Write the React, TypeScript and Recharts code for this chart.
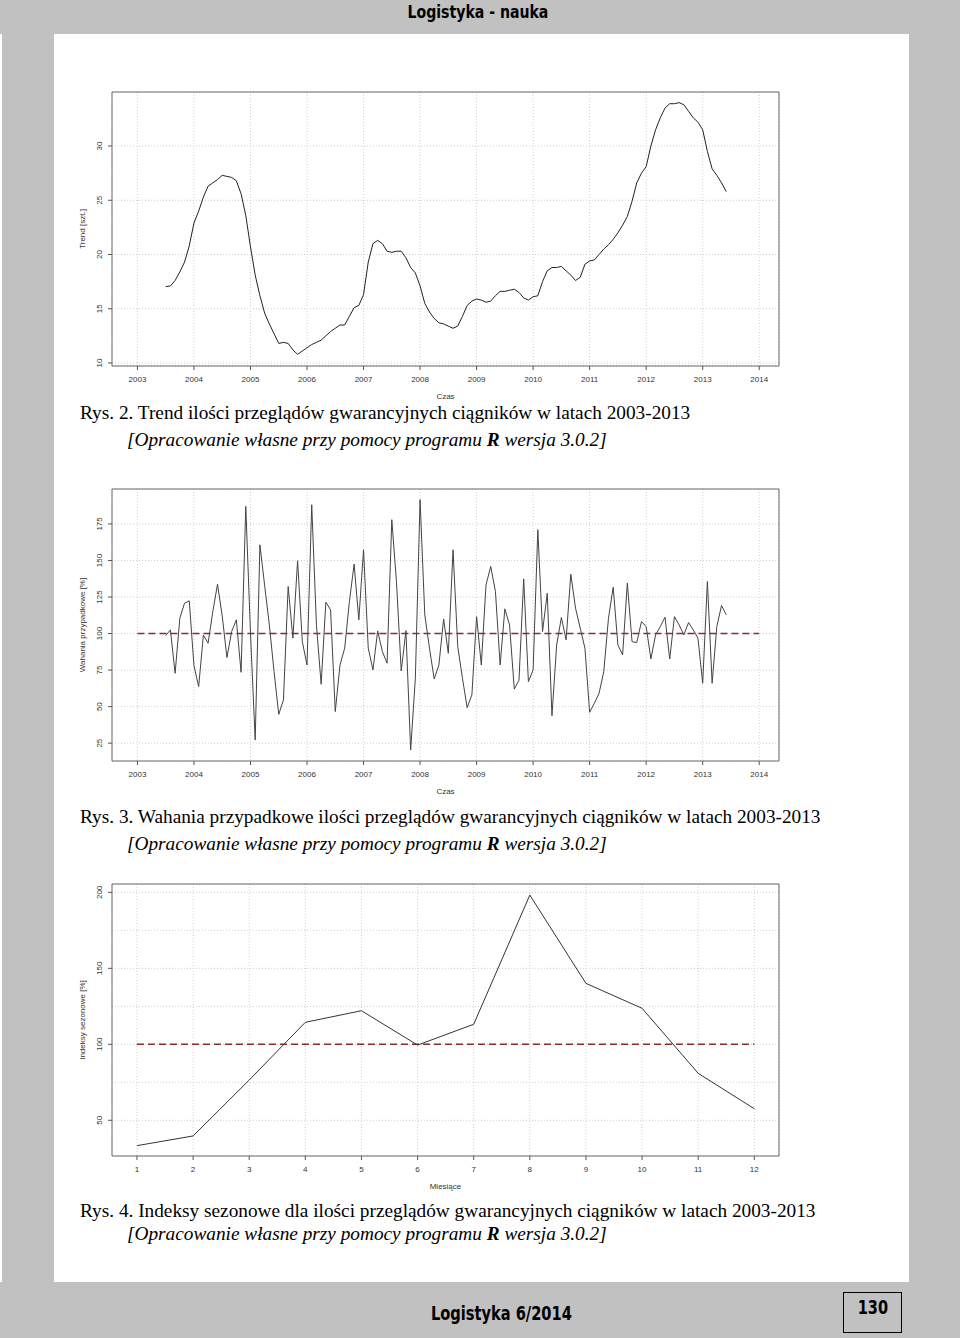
import {
  LineChart,
  Line,
  XAxis,
  YAxis,
  CartesianGrid,
  ReferenceLine,
  ReferenceArea,
} from "recharts";

// monthly series start: July 2003 (12-month moving average drops 6 months each side)
const START_YEAR = 2003;
const START_MONTH = 7;

const trendValues = [
  17.04, 17.1, 17.6, 18.4, 19.3, 20.8, 22.9, 24.0, 25.3, 26.3, 26.6, 26.9,
  27.3, 27.2, 27.1, 26.8, 25.6, 23.6, 20.7, 18.1, 16.2, 14.6, 13.6, 12.7,
  11.8, 11.9, 11.8, 11.2, 10.8, 11.1, 11.4, 11.7, 11.9, 12.1, 12.5, 12.9,
  13.2, 13.5, 13.5, 14.3, 15.1, 15.3, 16.3, 19.3, 21.0, 21.3, 21.0, 20.3,
  20.2, 20.3, 20.3, 19.7, 18.8, 18.3, 17.1, 15.5, 14.7, 14.1, 13.7, 13.6,
  13.4, 13.2, 13.4, 14.3, 15.3, 15.7, 15.9, 15.8, 15.6, 15.7, 16.2, 16.6,
  16.6, 16.7, 16.8, 16.5, 16.0, 15.8, 16.1, 16.2, 17.5, 18.5, 18.8, 18.8,
  18.9, 18.5, 18.1, 17.6, 17.9, 19.1, 19.4, 19.5, 20.0, 20.5, 20.9, 21.4,
  22.0, 22.7, 23.5, 24.9, 26.6, 27.5, 28.1, 30.0, 31.5, 32.6, 33.5, 33.9,
  33.9, 34.0, 33.8, 33.2, 32.6, 32.2, 31.5, 29.5, 27.9, 27.3, 26.6, 25.8,
];

const randomValues = [
  98.6, 102.5, 72.8, 110.5, 120.8, 122.4, 78, 63.7, 99, 93.4, 115, 133.8,
  112, 83.6, 101.4, 109.4, 73.5, 187, 100, 27.2, 160.7, 133, 106, 74,
  44.7, 54.6, 132.2, 96.8, 149.8, 94.5, 78.5, 188.1, 106, 65.3, 121.5, 116.2,
  46.6, 78.5, 90, 122, 147.5, 109.4, 157.3, 90, 75.1, 101.8, 87.7, 79.7,
  177.9, 135, 74.4, 102, 20.3, 69.4, 191.6, 112.8, 90, 68.9, 78.5, 110,
  86.5, 157.3, 91.1, 69.4, 49.3, 58, 111.6, 78.5, 133.3, 145.9, 128.8, 78.5,
  116.9, 105.9, 62, 68, 137.4, 67.1, 75.1, 171, 101.4, 127.6, 43.8, 92.2,
  111, 95.7, 140.6, 117.4, 103.7, 90, 46.1, 52.3, 59.1, 74, 110.5, 131.7,
  92.2, 85.4, 134.5, 94.5, 93.8, 108.2, 104.8, 82.6, 99.1, 104.8, 111.2, 82.6,
  111.6, 105.9, 99.1, 107.5, 102.5, 96.8, 66, 135.6, 66, 104.8, 119.2, 112.8,
];

const months = [1, 2, 3, 4, 5, 6, 7, 8, 9, 10, 11, 12];
const seasonalValues = [33.3, 39.7, 76.5, 114.5, 122.1, 99.5, 113.2, 198.2, 140.1, 123.7, 80.9, 57.6];

const yearTicks = [2003, 2004, 2005, 2006, 2007, 2008, 2009, 2010, 2011, 2012, 2013, 2014];
const trendTicks = [10, 15, 20, 25, 30];
const randomTicks = [25, 50, 75, 100, 125, 150, 175];
const seasonalTicks = [50, 75, 100, 125, 150, 175, 200];
const seasonalLabels = [50, 100, 150, 200];

const toTime = (i: number) => START_YEAR + (START_MONTH - 1 + i) / 12;
const trendData = trendValues.map((v, i) => ({ x: toTime(i), v }));
const randomData = randomValues.map((v, i) => ({ x: toTime(i), v }));
const seasonalData = months.map((m, i) => ({ x: m, v: seasonalValues[i] }));

const PAGE_W = 960;
const PLOT_LEFT = 112;
const PLOT_RIGHT = 779;
const Y_AXIS_W = 30;
const X_AXIS_H = 30;
const AXIS_FONT = "'Liberation Sans', Arial, sans-serif";
const AXIS_FS = 8;

interface PanelProps {
  top: number;
  plotTop: number;
  plotBottom: number;
  data: { x: number; v: number }[];
  xDomain: [number, number];
  yDomain: [number, number];
  xTicks: number[];
  yTicks: number[];
  yLabels: number[];
  yTitle: string;
  xTitle: string;
  stroke: string;
  refLine?: [number, number];
}

function Panel(p: PanelProps) {
  const height = p.plotBottom - p.top + X_AXIS_H + 10;
  // coordinates inside the chart's svg
  const pb = p.plotBottom - p.top;
  const midX = (PLOT_LEFT + PLOT_RIGHT) / 2;
  const midY = (p.plotTop + p.plotBottom) / 2 - p.top;

  const xTick = (props: any) => {
    const { x, payload } = props;
    return (
      <g>
        <line x1={x} x2={x} y1={pb} y2={pb + 4} stroke="#555" />
        <text x={x} y={pb + 13} textAnchor="middle" dominantBaseline="central"
          fontSize={AXIS_FS} fill="#333" fontFamily={AXIS_FONT}>
          {payload.value}
        </text>
      </g>
    );
  };

  const yTick = (props: any) => {
    const { y, payload } = props;
    if (!p.yLabels.includes(payload.value)) return <g />;
    const tx = PLOT_LEFT - 12;
    return (
      <g>
        <line x1={PLOT_LEFT - 4} x2={PLOT_LEFT} y1={y} y2={y} stroke="#555" />
        <text x={tx} y={y} transform={`rotate(-90 ${tx} ${y})`} textAnchor="middle"
          dominantBaseline="central" fontSize={AXIS_FS} fill="#333" fontFamily={AXIS_FONT}>
          {payload.value}
        </text>
      </g>
    );
  };

  return (
    <div style={{ position: "absolute", left: 0, top: p.top }}>
      <LineChart
        width={PAGE_W}
        height={height}
        data={p.data}
        margin={{ top: p.plotTop - p.top, right: PAGE_W - PLOT_RIGHT, bottom: 10, left: PLOT_LEFT - Y_AXIS_W }}
      >
        <CartesianGrid stroke="#cfcfcf" strokeDasharray="1 2" />
        <XAxis
          type="number"
          dataKey="x"
          domain={p.xDomain}
          allowDataOverflow
          ticks={p.xTicks}
          interval={0}
          height={X_AXIS_H}
          axisLine={false}
          tickLine={false}
          tick={xTick}
          label={{
            content: () => (
              <text x={midX} y={pb + 30} textAnchor="middle" dominantBaseline="central"
                fontSize={AXIS_FS} fill="#333" fontFamily={AXIS_FONT}>
                {p.xTitle}
              </text>
            ),
          }}
        />
        <YAxis
          type="number"
          domain={p.yDomain}
          allowDataOverflow
          ticks={p.yTicks}
          interval={0}
          width={Y_AXIS_W}
          axisLine={false}
          tickLine={false}
          tick={yTick}
          label={{
            content: () => (
              <text x={PLOT_LEFT - 30} y={midY} transform={`rotate(-90 ${PLOT_LEFT - 30} ${midY})`}
                textAnchor="middle" dominantBaseline="central" fontSize={AXIS_FS} fill="#333"
                fontFamily={AXIS_FONT}>
                {p.yTitle}
              </text>
            ),
          }}
        />
        <ReferenceArea
          x1={p.xDomain[0]}
          x2={p.xDomain[1]}
          y1={p.yDomain[0]}
          y2={p.yDomain[1]}
          ifOverflow="visible"
          fill="none"
          stroke="#6b6b6b"
          strokeWidth={1}
        />
        {p.refLine && (
          <ReferenceLine
            segment={[{ x: p.refLine[0], y: 100 }, { x: p.refLine[1], y: 100 }]}
            stroke="#8b2c2c"
            strokeWidth={1.6}
            strokeDasharray="7 4"
          />
        )}
        <Line type="linear" dataKey="v" stroke={p.stroke} strokeWidth={1} dot={false} isAnimationActive={false} />
      </LineChart>
    </div>
  );
}

const SERIF = "'Liberation Serif', 'Times New Roman', serif";
const CONDENSED = "'Liberation Sans Narrow', 'DejaVu Sans Condensed', sans-serif";

function Caption({ top, num, title, gap = 0 }: { top: number; num: number; title: string; gap?: number }) {
  return (
    <div style={{ position: "absolute", left: 80, top, fontFamily: SERIF, fontSize: 19.3, lineHeight: "27px", color: "#000", whiteSpace: "nowrap" }}>
      <div>Rys. {num}. {title}</div>
      <div style={{ paddingLeft: 47, fontStyle: "italic", marginTop: gap }}>
        [Opracowanie własne przy pomocy programu <b>R</b> wersja 3.0.2]
      </div>
    </div>
  );
}

function Narrow({ children, scale }: { children: string; scale: number }) {
  return <span style={{ display: "inline-block", transform: `scaleX(${scale})`, transformOrigin: "center" }}>{children}</span>;
}

export default function App() {
  return (
    <div style={{ position: "absolute", left: 0, top: 0, width: 960, height: 1338, background: "#c1c1c1", overflow: "hidden" }}>
      <div style={{ position: "absolute", left: 0, top: 0, width: 955, height: 24, lineHeight: "24px", textAlign: "center", fontFamily: CONDENSED, fontWeight: "bold", fontSize: 18, color: "#000" }}>
        <Narrow scale={0.87}>Logistyka - nauka</Narrow>
      </div>
      <div style={{ position: "absolute", left: 54, top: 34, width: 855, height: 1248, background: "#fff" }} />
      <div style={{ position: "absolute", left: 0, top: 34, width: 2, height: 1248, background: "#fff" }} />

      <Panel
        top={80}
        plotTop={92}
        plotBottom={366}
        data={trendData}
        xDomain={[2002.55, 2014.35]}
        yDomain={[9.72, 34.98]}
        xTicks={yearTicks}
        yTicks={trendTicks}
        yLabels={trendTicks}
        yTitle="Trend [szt.]"
        xTitle="Czas"
        stroke="#222"
      />
      <Caption top={399} num={2} title="Trend ilości przeglądów gwarancyjnych ciągników w latach 2003-2013" />

      <Panel
        top={475}
        plotTop={489}
        plotBottom={761}
        data={randomData}
        xDomain={[2002.55, 2014.35]}
        yDomain={[12.8, 198.9]}
        xTicks={yearTicks}
        yTicks={randomTicks}
        yLabels={randomTicks}
        yTitle="Wahania przypadkowe [%]"
        xTitle="Czas"
        stroke="#444"
        refLine={[2003, 2014]}
      />
      <Caption top={803} num={3} title="Wahania przypadkowe ilości przeglądów gwarancyjnych ciągników w latach 2003-2013" />

      <Panel
        top={870}
        plotTop={884}
        plotBottom={1156}
        data={seasonalData}
        xDomain={[0.555, 12.44]}
        yDomain={[26.5, 205.5]}
        xTicks={months}
        yTicks={seasonalTicks}
        yLabels={seasonalLabels}
        yTitle="Indeksy sezonowe [%]"
        xTitle="Miesiące"
        stroke="#333"
        refLine={[1, 12]}
      />
      <Caption top={1197} num={4} gap={-4} title="Indeksy sezonowe dla ilości przeglądów gwarancyjnych ciągników w latach 2003-2013" />

      <div style={{ position: "absolute", left: 418, top: 1301, width: 166, textAlign: "center", lineHeight: "24px", fontFamily: CONDENSED, fontWeight: "bold", fontSize: 19, color: "#000", whiteSpace: "nowrap" }}>
        <Narrow scale={0.855}>Logistyka 6/2014</Narrow>
      </div>
      <div style={{ position: "absolute", left: 843, top: 1292, width: 59, height: 41, border: "1.5px solid #000", boxSizing: "border-box", textAlign: "center", lineHeight: "28px", fontFamily: CONDENSED, fontWeight: "bold", fontSize: 19, color: "#000" }}>
        <Narrow scale={0.85}>130</Narrow>
      </div>
    </div>
  );
}
